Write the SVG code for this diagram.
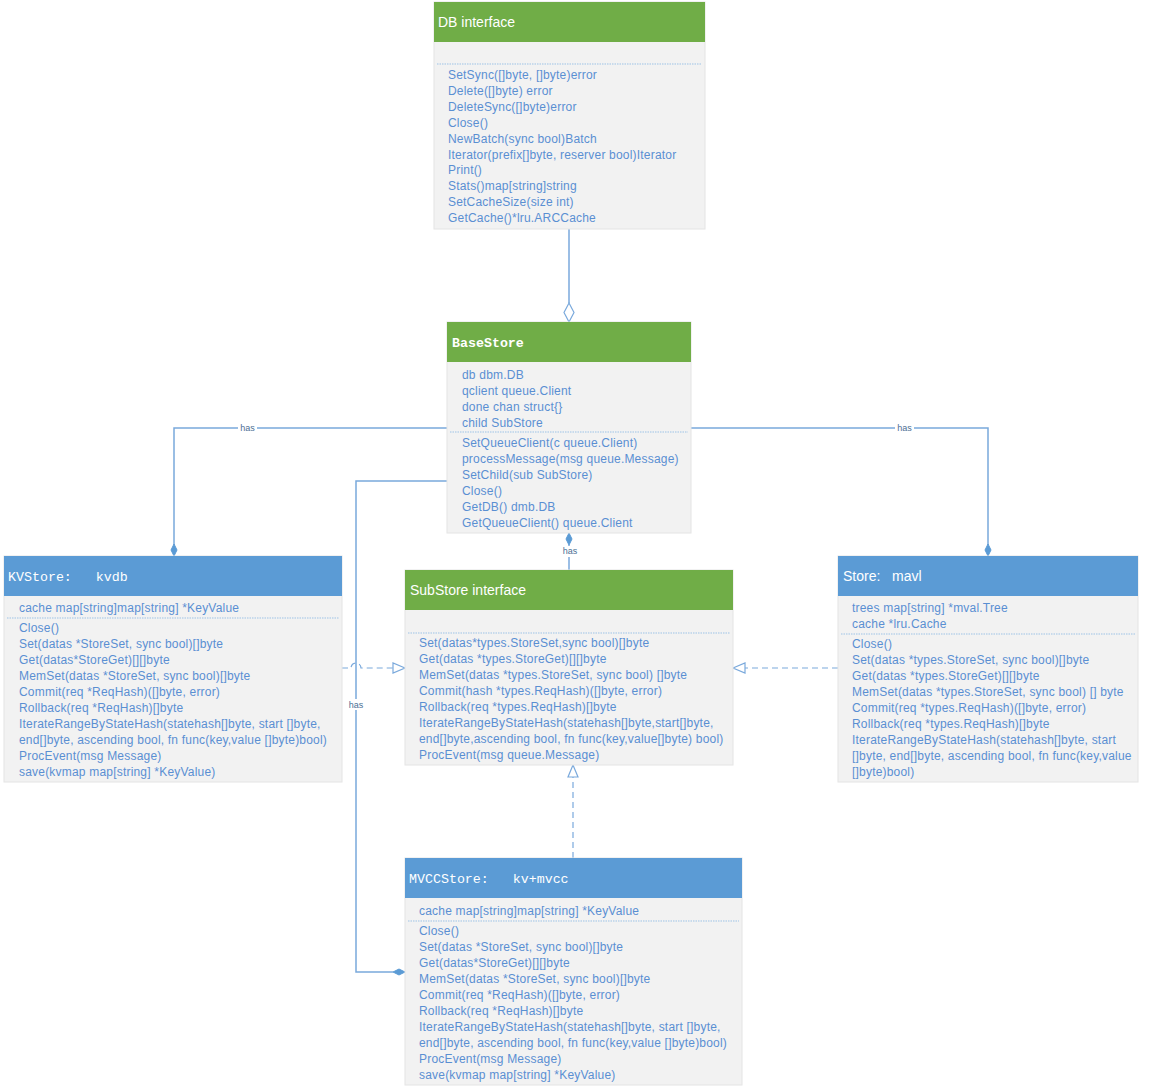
<svg xmlns="http://www.w3.org/2000/svg" width="1152" height="1090" viewBox="0 0 1152 1090">
<style>
.body{fill:#f2f2f2;stroke:#e4e4e4;stroke-width:1}
.hg{fill:#70ad47}
.hb{fill:#5b9bd5}
.t{font-family:"Liberation Sans",Arial,sans-serif;font-size:12px;letter-spacing:0.2px;fill:#5a8fd2}
.ht{font-family:"Liberation Sans",Arial,sans-serif;font-size:14px;fill:#ffffff;white-space:pre}
.hm{font-family:"Liberation Mono","Courier New",monospace;font-size:13.3px;fill:#ffffff;white-space:pre}
.sep{stroke:#9dc3e6;stroke-width:1;stroke-dasharray:1.5 1}
.c{fill:none;stroke:#7aa9dc;stroke-width:1.5}
.d{fill:none;stroke:#7aa9dc;stroke-width:1.2;stroke-dasharray:6 4}
.fd{fill:#5b9bd5;stroke:#5b9bd5;stroke-width:1}
.hd{fill:#ffffff;stroke:#7aa9dc;stroke-width:1.2}
.lbl{font-family:"Liberation Sans",Arial,sans-serif;font-size:9px;fill:#4d6f95}
</style>

<g id="connectors">
  <line class="c" x1="569" y1="229" x2="569" y2="303"/>
  <polygon class="hd" points="569,322 564,312.5 569,303 574,312.5"/>
  <polyline class="c" points="447,428 174,428 174,545"/>
  <polygon class="fd" points="174,556 171,550 174,544 177,550"/>
  <rect x="238" y="422" width="19" height="11" fill="#ffffff"/>
  <text class="lbl" x="247.5" y="431" text-anchor="middle">has</text>
  <polyline class="c" points="691,428 988,428 988,545"/>
  <polygon class="fd" points="988,556 985,550 988,544 991,550"/>
  <rect x="895" y="422" width="19" height="11" fill="#ffffff"/>
  <text class="lbl" x="904.5" y="431" text-anchor="middle">has</text>
  <polyline class="c" points="447,481 356,481 356,972 393,972"/>
  <polygon class="fd" points="405,972 399,969 393,972 399,975"/>
  <rect x="346" y="699" width="20" height="11" fill="#ffffff"/>
  <text class="lbl" x="356" y="708" text-anchor="middle">has</text>
  <line class="c" x1="569" y1="545" x2="569" y2="570"/>
  <polygon class="fd" points="569,533 566,539 569,545 572,539"/>
  <rect x="560" y="546" width="20" height="11" fill="#ffffff"/>
  <text class="lbl" x="570" y="554" text-anchor="middle">has</text>
  <path class="d" d="M342,668 H351 A5,5 0 0 1 361,668 H393"/>
  <polygon class="hd" points="405,668 393,663 393,673"/>
  <line class="d" x1="838" y1="668" x2="745" y2="668"/>
  <polygon class="hd" points="733,668 745,663 745,673"/>
  <line class="d" x1="573" y1="858" x2="573" y2="777"/>
  <polygon class="hd" points="573,765 568,777 578,777"/>
</g>

<g id="db-interface">
  <rect class="body" x="434" y="2" width="271" height="227"/>
  <rect class="hg" x="434" y="2" width="271" height="40"/>
  <text class="ht" x="438" y="27">DB interface</text>
  <line class="sep" x1="437" y1="64" x2="702" y2="64"/>
  <text class="t" x="448" y="79">SetSync([]byte, []byte)error</text>
  <text class="t" x="448" y="95">Delete([]byte) error</text>
  <text class="t" x="448" y="111">DeleteSync([]byte)error</text>
  <text class="t" x="448" y="127">Close()</text>
  <text class="t" x="448" y="143">NewBatch(sync bool)Batch</text>
  <text class="t" x="448" y="159">Iterator(prefix[]byte, reserver bool)Iterator</text>
  <text class="t" x="448" y="174">Print()</text>
  <text class="t" x="448" y="190">Stats()map[string]string</text>
  <text class="t" x="448" y="206">SetCacheSize(size int)</text>
  <text class="t" x="448" y="222">GetCache()*lru.ARCCache</text>
</g>

<g id="basestore">
  <rect class="body" x="447" y="322" width="244" height="211"/>
  <rect class="hg" x="447" y="322" width="244" height="40"/>
  <text class="hm" x="452" y="347" font-weight="bold">BaseStore</text>
  <text class="t" x="462" y="379">db dbm.DB</text>
  <text class="t" x="462" y="395">qclient queue.Client</text>
  <text class="t" x="462" y="411">done chan struct{}</text>
  <text class="t" x="462" y="427">child SubStore</text>
  <line class="sep" x1="450" y1="432" x2="688" y2="432"/>
  <text class="t" x="462" y="447">SetQueueClient(c queue.Client)</text>
  <text class="t" x="462" y="463">processMessage(msg queue.Message)</text>
  <text class="t" x="462" y="479">SetChild(sub SubStore)</text>
  <text class="t" x="462" y="495">Close()</text>
  <text class="t" x="462" y="511">GetDB() dmb.DB</text>
  <text class="t" x="462" y="527">GetQueueClient() queue.Client</text>
</g>

<g id="kvstore">
  <rect class="body" x="4" y="556" width="338" height="226"/>
  <rect class="hb" x="4" y="556" width="338" height="40"/>
  <text class="hm" x="8" y="581">KVStore:   kvdb</text>
  <text class="t" x="19" y="612">cache map[string]map[string] *KeyValue</text>
  <line class="sep" x1="7" y1="618" x2="339" y2="618"/>
  <text class="t" x="19" y="632">Close()</text>
  <text class="t" x="19" y="648">Set(datas *StoreSet, sync bool)[]byte</text>
  <text class="t" x="19" y="664">Get(datas*StoreGet)[][]byte</text>
  <text class="t" x="19" y="680">MemSet(datas *StoreSet, sync bool)[]byte</text>
  <text class="t" x="19" y="696">Commit(req *ReqHash)([]byte, error)</text>
  <text class="t" x="19" y="712">Rollback(req *ReqHash)[]byte</text>
  <text class="t" x="19" y="728">IterateRangeByStateHash(statehash[]byte, start []byte,</text>
  <text class="t" x="19" y="744">end[]byte, ascending bool, fn func(key,value []byte)bool)</text>
  <text class="t" x="19" y="760">ProcEvent(msg Message)</text>
  <text class="t" x="19" y="776">save(kvmap map[string] *KeyValue)</text>
</g>

<g id="substore">
  <rect class="body" x="405" y="570" width="328" height="195"/>
  <rect class="hg" x="405" y="570" width="328" height="40"/>
  <text class="ht" x="410" y="595">SubStore interface</text>
  <line class="sep" x1="408" y1="633" x2="730" y2="633"/>
  <text class="t" x="419" y="647">Set(datas*types.StoreSet,sync bool)[]byte</text>
  <text class="t" x="419" y="663">Get(datas *types.StoreGet)[][]byte</text>
  <text class="t" x="419" y="679">MemSet(datas *types.StoreSet, sync bool) []byte</text>
  <text class="t" x="419" y="695">Commit(hash *types.ReqHash)([]byte, error)</text>
  <text class="t" x="419" y="711">Rollback(req *types.ReqHash)[]byte</text>
  <text class="t" x="419" y="727">IterateRangeByStateHash(statehash[]byte,start[]byte,</text>
  <text class="t" x="419" y="743">end[]byte,ascending bool, fn func(key,value[]byte) bool)</text>
  <text class="t" x="419" y="759">ProcEvent(msg queue.Message)</text>
</g>

<g id="store-mavl">
  <rect class="body" x="838" y="556" width="300" height="226"/>
  <rect class="hb" x="838" y="556" width="300" height="40"/>
  <text class="ht" x="843" y="581">Store:   mavl</text>
  <text class="t" x="852" y="612">trees map[string] *mval.Tree</text>
  <text class="t" x="852" y="628">cache *lru.Cache</text>
  <line class="sep" x1="841" y1="634" x2="1135" y2="634"/>
  <text class="t" x="852" y="648">Close()</text>
  <text class="t" x="852" y="664">Set(datas *types.StoreSet, sync bool)[]byte</text>
  <text class="t" x="852" y="680">Get(datas *types.StoreGet)[][]byte</text>
  <text class="t" x="852" y="696">MemSet(datas *types.StoreSet, sync bool) [] byte</text>
  <text class="t" x="852" y="712">Commit(req *types.ReqHash)([]byte, error)</text>
  <text class="t" x="852" y="728">Rollback(req *types.ReqHash)[]byte</text>
  <text class="t" x="852" y="744">IterateRangeByStateHash(statehash[]byte, start</text>
  <text class="t" x="852" y="760">[]byte, end[]byte, ascending bool, fn func(key,value</text>
  <text class="t" x="852" y="776">[]byte)bool)</text>
</g>

<g id="mvccstore">
  <rect class="body" x="405" y="858" width="337" height="227"/>
  <rect class="hb" x="405" y="858" width="337" height="40"/>
  <text class="hm" x="409" y="883">MVCCStore:   kv+mvcc</text>
  <text class="t" x="419" y="915">cache map[string]map[string] *KeyValue</text>
  <line class="sep" x1="408" y1="921" x2="739" y2="921"/>
  <text class="t" x="419" y="935">Close()</text>
  <text class="t" x="419" y="951">Set(datas *StoreSet, sync bool)[]byte</text>
  <text class="t" x="419" y="967">Get(datas*StoreGet)[][]byte</text>
  <text class="t" x="419" y="983">MemSet(datas *StoreSet, sync bool)[]byte</text>
  <text class="t" x="419" y="999">Commit(req *ReqHash)([]byte, error)</text>
  <text class="t" x="419" y="1015">Rollback(req *ReqHash)[]byte</text>
  <text class="t" x="419" y="1031">IterateRangeByStateHash(statehash[]byte, start []byte,</text>
  <text class="t" x="419" y="1047">end[]byte, ascending bool, fn func(key,value []byte)bool)</text>
  <text class="t" x="419" y="1063">ProcEvent(msg Message)</text>
  <text class="t" x="419" y="1079">save(kvmap map[string] *KeyValue)</text>
</g>
</svg>
